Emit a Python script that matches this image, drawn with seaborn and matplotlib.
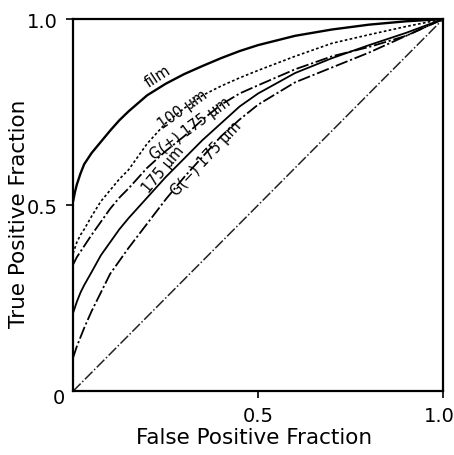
import matplotlib
matplotlib.use("Agg")
import matplotlib.pyplot as plt
import matplotlib.transforms as mtransforms
import seaborn as sns

# ---- data ----
fpf = [0.0, 0.005, 0.01, 0.02, 0.03, 0.05, 0.075, 0.10, 0.125, 0.15, 0.20, 0.25,
       0.30, 0.35, 0.40, 0.45, 0.50, 0.60, 0.70, 0.80, 0.90, 1.0]
tpf_film = [0.51, 0.535, 0.555, 0.585, 0.61, 0.64, 0.67, 0.70, 0.728, 0.752, 0.795, 0.826,
            0.852, 0.874, 0.895, 0.914, 0.93, 0.955, 0.972, 0.985, 0.994, 1.0]
tpf_100 = [0.37, 0.385, 0.40, 0.42, 0.435, 0.47, 0.51, 0.54, 0.57, 0.595, 0.665, 0.72,
           0.76, 0.795, 0.82, 0.842, 0.862, 0.90, 0.935, 0.958, 0.98, 1.0]
tpf_gplus = [0.34, 0.35, 0.36, 0.375, 0.39, 0.42, 0.455, 0.49, 0.52, 0.545, 0.60, 0.645,
             0.685, 0.73, 0.77, 0.80, 0.822, 0.865, 0.90, 0.925, 0.955, 1.0]
tpf_175 = [0.21, 0.225, 0.24, 0.265, 0.285, 0.32, 0.365, 0.40, 0.435, 0.465, 0.52, 0.575,
           0.625, 0.675, 0.72, 0.765, 0.80, 0.855, 0.895, 0.93, 0.963, 1.0]
tpf_gminus = [0.09, 0.105, 0.12, 0.145, 0.17, 0.215, 0.265, 0.315, 0.35, 0.385, 0.45, 0.515,
              0.575, 0.63, 0.685, 0.73, 0.77, 0.83, 0.87, 0.91, 0.955, 1.0]
chance_x = [0.0, 1.0]
chance_y = [0.0, 1.0]

tick_vals = [0.0, 0.5, 1.0]
tick_labels = ["0", "0.5", "1.0"]

sns.set_theme(style="white")
plt.rcParams['font.family'] = ['DejaVu Sans']
plt.rcParams['text.color'] = 'black'

fig = plt.figure(figsize=(4.54, 4.56), dpi=100)
ax = fig.add_axes([0.161, 0.140, 0.815, 0.816])

curves = [
    (tpf_film, "-", 1.7),
    (tpf_100, (0, (1.6, 1.4)), 1.2),
    (tpf_gplus, (0, (7, 1.5, 1.2, 1.5)), 1.3),
    (tpf_175, "-", 1.3),
    (tpf_gminus, (0, (7, 1.5, 1.2, 1.5)), 1.3),
]
for ys, ls, lw in curves:
    sns.lineplot(x=fpf, y=ys, ax=ax, color="black", linestyle=ls, linewidth=lw,
                 sort=False, estimator=None)
sns.lineplot(x=chance_x, y=chance_y, ax=ax, color="#222222",
             linestyle=(0, (7, 1.5, 1, 1.5)), linewidth=1.1, sort=False, estimator=None)

ax.set_xlim(0, 1)
ax.set_ylim(0, 1)
ax.set_xticks(tick_vals[1:])
ax.set_xticklabels(tick_labels[1:])
ax.set_yticks(tick_vals[1:])
ax.set_yticklabels(tick_labels[1:])
ax.tick_params(axis="both", direction="out", length=5, width=1.2, color="black",
               labelcolor="black", labelsize=14, pad=6, bottom=True, left=True)
# nudge the right-most x tick label so it stays inside the figure
lab = ax.get_xticklabels()[-1]
lab.set_transform(lab.get_transform() + mtransforms.ScaledTranslation(-4 / 100, 0, fig.dpi_scale_trans))
for s in ax.spines.values():
    s.set_color("black")
    s.set_linewidth(1.6)
ax.text(-0.038, -0.018, "0", fontsize=14, ha="center", va="center", transform=ax.transAxes)

ax.set_xlabel("False Positive Fraction", fontsize=15.5, color="black")
ax.set_ylabel("True Positive Fraction", fontsize=15.5, color="black")
ax.xaxis.set_label_coords(0.49, -0.097)
ax.yaxis.set_label_coords(-0.12, 0.48)

lab_kw = dict(fontsize=10.5, ha="center", va="center", color="black")
ax.text(0.23, 0.848, "film", rotation=33, **lab_kw)
ax.text(0.295, 0.758, "100 µm", rotation=35, **lab_kw)
ax.text(0.318, 0.708, "G(+) 175 µm", rotation=36, **lab_kw)
ax.text(0.243, 0.597, "175 µm", rotation=50, **lab_kw)
ax.text(0.36, 0.628, "G(−) 175 µm", rotation=47, **lab_kw)

fig.savefig("out.png", dpi=100)
